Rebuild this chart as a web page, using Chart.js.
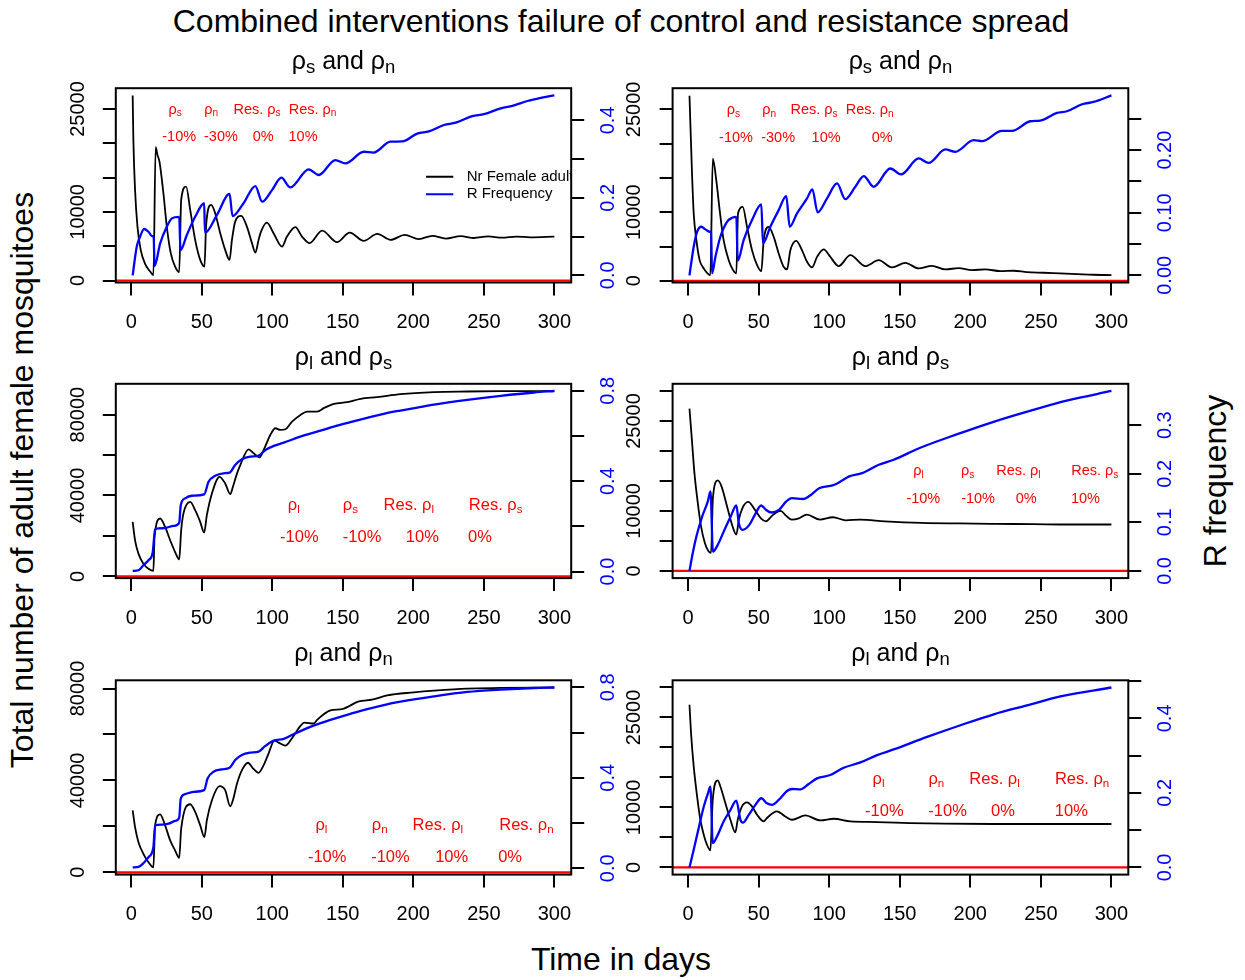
<!DOCTYPE html>
<html><head><meta charset="utf-8">
<script src="https://cdn.jsdelivr.net/npm/chart.js@4.4.1/dist/chart.umd.min.js"></script>
<style>
html,body{margin:0;padding:0;background:#fff;}
body{width:1245px;height:980px;position:relative;overflow:hidden;font-family:'Liberation Sans',Arial,Helvetica,sans-serif;}
canvas{position:absolute;}
.t{position:absolute;white-space:nowrap;line-height:1;color:#000;}
.t sub{font-size:74%;vertical-align:-0.22em;line-height:0;}
</style></head><body>
<div class="t" id="mainTitle" style="font-size:32px;left:621px;top:5px;transform:translateX(-50%);">Combined interventions failure of control and resistance spread</div>
<div class="t" style="font-size:32px;left:621px;top:943px;transform:translateX(-50%);">Time in days</div>
<div class="t" style="font-size:32px;left:22px;top:480px;transform:translate(-50%,-50%) rotate(-90deg);">Total number of adult female mosquitoes</div>
<div class="t" style="font-size:32px;left:1215px;top:481px;transform:translate(-50%,-50%) rotate(-90deg);">R frequency</div>
<script>
// ---------------- data ----------------
const xRange = [1, 300];
const xTickValues = [0,50,100,150,200,250,300];

// Panel 1: rho_s and rho_n (Res. rho_s 0%, Res. rho_n 10%)
const p1Days = [1,1.5,2.7,4.4,6.7,9.8,13.4,15.7,17.3,18.6,20,22.8,25.2,28,31.1,34,35.4,38.9,41.8,45.3,48.9,51.9,53.1,56.7,59.5,63.1,66.6,69.7,71.4,73.7,78,82,85.6,88,90.3,92,96.2,100.9,106.9,110.4,116.4,121.1,126.5,135.3,145.9,154.9,164.9,174.4,183.9,193.8,204,213.5,223,233.6,243,253,263,273,283,300];
const p1Female = [26970,20490,13200,7860,4470,2430,1310,760,19420,18300,17330,12720,7860,3990,2040,1220,11750,13690,10290,5925,3010,2040,8110,11020,9810,6900,4470,3010,5925,8590,9420,7860,5445,4080,5925,7130,8445,6900,4950,6405,7775,6405,5445,7280,5590,6990,5780,6800,5925,6650,6030,6520,6120,6460,6200,6420,6250,6400,6300,6400];
const p1FreqDays = [1,3.9,6.2,9.1,12.2,14.6,15.9,16.5,20.5,25.2,28.8,34,34.9,39.4,45.3,51.7,52.3,60.7,69.7,71.8,79.6,88,92.8,99.8,106.4,112.8,125.8,132.9,144.7,151.9,164.9,171.8,183.8,192.1,202.8,211,221.7,230,241.8,250.1,262,271.5,281,290.4,300];
const p1Freq = [0,0.074,0.0996,0.1195,0.1125,0.1014,0.0996,0.024,0.0826,0.1254,0.147,0.151,0.065,0.104,0.151,0.186,0.11,0.1556,0.21,0.153,0.186,0.2304,0.19,0.22,0.252,0.227,0.2735,0.259,0.2975,0.289,0.319,0.317,0.345,0.3456,0.366,0.3716,0.388,0.394,0.411,0.416,0.431,0.4387,0.45,0.458,0.4645];

// Panel 2: rho_s and rho_n (Res. rho_s 10%, Res. rho_n 0%)
const p2Days = [1,2.8,4,5.9,8.2,11.1,15.8,17.5,20,22.4,25.2,28.8,31.9,34.2,35.4,38.7,41.8,45.3,48.9,51.9,53.6,57.1,60.7,64.2,67.7,70.1,72.5,76.7,80.7,84.3,87.8,91.4,96.1,100.8,106.7,115,125.6,135.1,144.5,154,163.4,172.8,182.3,191.7,201.2,210.6,221.2,230.7,240.1,251.9,263.7,275.5,287.3,300];
const p2Female = [27000,15640,9810,5925,3010,1805,830,17820,14660,10290,5925,3010,1560,1077,9810,10770,7860,4470,2290,1410,5925,7860,6400,3990,2040,1660,4470,5820,4470,2770,1950,3490,4570,3490,2140,3740,2140,3010,1950,2620,1805,2180,1660,1850,1560,1660,1416,1465,1270,1174,1077,980,880,830];
const p2FreqDays = [1,4,6.4,9.4,12.3,15.3,16.3,17,19.4,22.9,27.6,31.2,34.2,35.2,39.4,45.3,51.9,53.1,58.3,64.2,69.6,72,77.2,84.3,88.1,91.8,98.5,105.6,111.4,118.5,124.5,131.5,143.3,150.9,163.4,170.5,182.3,189.4,202.4,208.3,222.4,229.5,242.5,249.6,261.4,268.5,279.2,287.4,300];
const p2Freq = [0,0.0456,0.0696,0.0776,0.0734,0.0696,0.0685,0.0032,0.0297,0.0616,0.0855,0.0919,0.0935,0.0233,0.0563,0.0882,0.1133,0.0511,0.0776,0.1042,0.1265,0.0776,0.0989,0.1229,0.1372,0.1005,0.1229,0.1468,0.1217,0.1414,0.1585,0.1414,0.1707,0.1612,0.1867,0.1797,0.2011,0.1974,0.2159,0.2143,0.2307,0.2307,0.2462,0.2473,0.2595,0.2622,0.2733,0.277,0.2875];

// Panel 3: rho_l and rho_s
const p3Days = [1,2.7,5.1,8.6,12.2,15.7,16.5,20.5,24,27.6,31.1,34,35.4,37,41.8,45.3,48.9,51.7,53.6,57.2,62.6,66.6,70.2,72.1,75,77.3,83.2,86.8,91,93.9,98.6,102.2,105.7,109.3,114,120,124.7,131.8,136.5,143.6,153.1,162.6,174.4,191,214.6,238.3,262,300];
const p3Female = [26930,17850,11260,6300,3820,2715,19490,28610,24450,17850,12050,8430,22810,31090,36850,32730,26930,21670,30250,41010,49240,45970,40660,44280,50930,55050,62830,60850,58860,62480,69920,73240,72400,72730,76520,79840,81480,81480,83160,85300,86140,87770,88620,90110,91100,91400,91560,91650];
const p3FreqDays = [1,5.1,8.6,12.2,15.2,16.9,19.3,25.2,30,34,35.1,38.2,42.9,51.7,54.8,59.5,65.4,69.7,73.7,78.5,84.4,90.3,95.1,101,108.1,119.9,131.7,143.6,155.4,167.3,179.1,190.9,202.8,214.6,238.3,262,285.6,300];
const p3Freq = [0.003,0.006,0.028,0.05,0.0843,0.186,0.1908,0.195,0.2024,0.2157,0.294,0.324,0.3355,0.3416,0.3975,0.424,0.4348,0.4378,0.4716,0.497,0.5085,0.513,0.538,0.556,0.5706,0.597,0.619,0.6415,0.661,0.68,0.698,0.7125,0.7258,0.739,0.76,0.7777,0.7924,0.799];

// Panel 4: rho_l and rho_s
const p4Days = [1,2.7,4.5,6.6,9.2,11.9,14.5,16.3,17.6,21.1,23.7,27.6,31.5,34.2,36,38.6,42.6,47.3,51.8,55.2,60,65.6,69.6,73.5,78,84.2,93.4,102.6,111.8,122,139.4,165.6,191.9,218.1,244.4,270.6,300];
const p4Female = [27050,21890,16340,11890,7435,4670,3270,3000,12170,15100,14100,10770,7435,6050,8550,10500,11500,10220,8700,8270,9300,10000,9170,8550,8700,9385,8550,8950,8435,8550,8270,8000,7910,7850,7800,7740,7740];
const p4FreqDays = [1,3.3,5.9,10,14,15.9,17.6,21,26.3,30.2,34.2,36,38.6,43.4,47.3,51.8,55.2,59.1,64.4,69.6,73.5,81.4,85.4,93.2,102.4,106.3,114.2,123.3,135.2,145.7,164.1,190.3,216.5,242.8,269,300];
const p4Freq = [0,0.0365,0.0707,0.112,0.143,0.1635,0.0398,0.0536,0.088,0.112,0.1347,0.0983,0.0845,0.0948,0.1155,0.1347,0.1258,0.1202,0.1258,0.143,0.15,0.148,0.153,0.1705,0.176,0.181,0.1945,0.2014,0.2186,0.2289,0.253,0.281,0.307,0.330,0.351,0.3704];

// Panel 5: rho_l and rho_n
const p5Days = [1,2.7,5.1,8.6,12.2,15.7,16.9,20.5,24,27.6,31.1,34,35.4,41.8,45.3,48.9,51.9,53.6,57.2,62.6,66.6,70.2,72.1,75,78.5,82.8,86.3,90.3,93.9,97.4,101.5,104.5,109.3,114,120,122.8,129.4,131.8,141.3,149.5,161.4,170.8,181.5,200.4,214.6,238.3,262,300];
const p5Female = [27000,19690,13130,8050,4380,2130,20440,25250,20440,13870,9500,6300,18990,29630,26260,20440,15320,22620,31380,37500,35750,28750,31380,38680,44500,47700,45250,43320,46690,51810,57330,56450,55140,58380,63760,65200,64770,66380,70450,71070,74390,75140,77020,78330,79080,80000,80250,80450];
const p5FreqDays = [1,5.1,8.6,12.2,15.7,16.9,21.6,26.4,31.1,34,35.1,38.2,44.1,51.7,54.1,58.3,64.2,69.7,73.7,78.4,84.4,90.3,95.1,101,108.1,114,124.7,134.2,143.6,155.4,167.3,179.1,190.9,214.6,238.3,262,285.6,300];
const p5Freq = [0.0038,0.006,0.022,0.049,0.0933,0.19,0.193,0.197,0.209,0.224,0.308,0.3275,0.338,0.3453,0.397,0.4266,0.437,0.444,0.4786,0.5008,0.511,0.516,0.5408,0.5644,0.572,0.5897,0.6195,0.6417,0.6608,0.683,0.704,0.7217,0.7364,0.76,0.7795,0.79,0.797,0.7992];

// Panel 6: rho_l and rho_n
const p6Days = [1,2.1,4,6.4,8.7,11.1,13.4,15.8,17.5,21,22.9,26.4,30,33.5,35.2,38.2,41.8,45.3,48.9,53.6,55.9,63,68.9,73.7,83.1,93.7,103.2,115,133.9,157.5,181.1,216.5,300];
const p6Female = [27120,22400,16840,11840,7950,5450,3780,2830,11290,14500,13500,10740,7950,5835,7950,10170,10840,10170,8785,7670,8235,9335,8500,7950,8670,7835,8110,7670,7560,7400,7290,7234,7234];
const p6FreqDays = [1,4,7.5,11.1,14.1,15.8,17.5,20.5,25.2,30,34.2,37.1,38.9,43,47.7,51.9,55.9,59.5,64.2,70.1,73.7,79.6,85.5,91.4,100.8,110.3,122.1,133.9,145.7,169.4,193,216.6,240.2,263.9,300];
const p6Freq = [0,0.0473,0.1053,0.163,0.199,0.2166,0.0652,0.0829,0.123,0.154,0.179,0.1275,0.12,0.141,0.1677,0.1856,0.172,0.1677,0.181,0.205,0.2104,0.2095,0.2238,0.239,0.2479,0.2674,0.2818,0.3014,0.3166,0.3503,0.3816,0.411,0.435,0.459,0.4829];

// reference (red) level
const redLevel = 0;

// axis data ranges (as R computes them, before its 4% extension)
const leftRanges  = [[760,26980],[800,27040],[2715,91656],[0,30000],[2127,80453],[0,30000]];
const rightRanges = [[0,0.4645],[0,0.2875],[0.003,0.799],[0,0.3704],[0.0038,0.7992],[0,0.4829]];
// tick positions and the tick labels that R printed
const leftTickValues  = [[0,5000,10000,15000,20000,25000],[0,5000,10000,15000,20000,25000],[0,20000,40000,60000,80000],[0,5000,10000,15000,20000,25000,30000],[0,20000,40000,60000,80000],[0,5000,10000,15000,20000,25000,30000]];
const rightTickValues = [[0,0.1,0.2,0.3,0.4],[0,0.05,0.1,0.15,0.2,0.25],[0,0.2,0.4,0.6,0.8],[0,0.1,0.2,0.3],[0,0.2,0.4,0.6,0.8],[0,0.1,0.2,0.3,0.4,0.5]];
const leftTickLabels  = [['0','10000','25000'],['0','10000','25000'],['0','40000','80000'],['0','10000','25000'],['0','40000','80000'],['0','10000','25000']];
const rightTickLabels = [['0.0','0.2','0.4'],['0.00','0.10','0.20'],['0.0','0.4','0.8'],['0.0','0.1','0.2','0.3'],['0.0','0.4','0.8'],['0.0','0.2','0.4']];

const panelTitles = ['ρ<sub>s</sub> and ρ<sub>n</sub>','ρ<sub>s</sub> and ρ<sub>n</sub>','ρ<sub>l</sub> and ρ<sub>s</sub>','ρ<sub>l</sub> and ρ<sub>s</sub>','ρ<sub>l</sub> and ρ<sub>n</sub>','ρ<sub>l</sub> and ρ<sub>n</sub>'];

// red annotation texts ('|' marks the start of a subscript)
const annotNames  = [['ρ|s','ρ|n','Res. ρ|s','Res. ρ|n'],['ρ|s','ρ|n','Res. ρ|s','Res. ρ|n'],['ρ|l','ρ|s','Res. ρ|l','Res. ρ|s'],['ρ|l','ρ|s','Res. ρ|l','Res. ρ|s'],['ρ|l','ρ|n','Res. ρ|l','Res. ρ|n'],['ρ|l','ρ|n','Res. ρ|l','Res. ρ|n']];
const annotValues = [['-10%','-30%','0%','10%'],['-10%','-30%','10%','0%'],['-10%','-10%','10%','0%'],['-10%','-10%','0%','10%'],['-10%','-10%','10%','0%'],['-10%','-10%','0%','10%']];
const legendLabels = ['Nr Female adult','R Frequency'];

// ---------------- layout / style ----------------
const FONT = "'Liberation Sans', Arial, Helvetica, sans-serif";
const COLS = [{l:115.8, r:571.2, cl:40, cw:620},{l:672.6, r:1128.3, cl:622, cw:620}];
const ROWS = [88.2, 383.8, 680.3];
const BOX_H = 194.3;
const annotLayout = [
  {size:14.5, nameX:[31.1,56.7,89.2,128.6], nameY:24850, valX:[34,63.6,93.6,121.8], valY:20880},
  {size:14.5, nameX:[32.1,57.4,89.3,128.7], nameY:24850, valX:[34,63.8,97.8,137.5], valY:20880},
  {size:16.5, nameX:[115.2,155.4,196.8,258.4], nameY:34860, valX:[119.2,163.7,206.4,247.3], valY:19190},
  {size:14.5, nameX:[163.3,198.2,234.1,288.2], nameY:16600, valX:[166.7,205.5,239.6,281.6], valY:12050},
  {size:16.5, nameX:[134.8,176.2,217.4,280.2], nameY:20440, valX:[138.9,183.8,227.2,268.6], valY:6560},
  {size:16.5, nameX:[135,175.9,217.2,279.2], nameY:14620, valX:[139.1,183.9,223.2,271.6], valY:9335}
];

const series = [
  [p1Days,p1Female,p1FreqDays,p1Freq],[p2Days,p2Female,p2FreqDays,p2Freq],
  [p3Days,p3Female,p3FreqDays,p3Freq],[p4Days,p4Female,p4FreqDays,p4Freq],
  [p5Days,p5Female,p5FreqDays,p5Freq],[p6Days,p6Female,p6FreqDays,p6Freq]
];

function ext(r){ const d=(r[1]-r[0])*0.04; return [r[0]-d, r[1]+d]; }
function xy(xs, ys){ const n=Math.min(xs.length, ys.length); const o=[]; for(let i=0;i<n;i++) o.push({x:xs[i], y:ys[i]}); return o; }

function drawSubText(ctx, str, cx, cy, size, color){
  const parts = str.split('|');
  const main = parts[0], sub = parts[1]||'';
  const sSize = size*0.7;
  ctx.font = size+'px '+FONT; const w1 = ctx.measureText(main).width;
  ctx.font = sSize+'px '+FONT; const w2 = sub ? ctx.measureText(sub).width : 0;
  const x0 = cx-(w1+w2)/2;
  ctx.fillStyle = color; ctx.textAlign='left'; ctx.textBaseline='middle';
  ctx.font = size+'px '+FONT; ctx.fillText(main, x0, cy);
  if(sub){ ctx.font = sSize+'px '+FONT; ctx.fillText(sub, x0+w1, cy+size*0.25); }
}

// vertical (R style, las=0) tick labels, positioned by the scale
function drawYLabels(ctx, scale, labels, cx, color){
  ctx.save();
  ctx.fillStyle=color; ctx.font='20px '+FONT; ctx.textAlign='center'; ctx.textBaseline='middle';
  labels.forEach(lab=>{
    const py = scale.getPixelForValue(parseFloat(lab));
    ctx.save(); ctx.translate(cx, py); ctx.rotate(-Math.PI/2); ctx.fillText(lab, 0, 0); ctx.restore();
  });
  ctx.restore();
}
function fixedTicks(values){ return (sc)=>{ sc.ticks = values.map(v=>({value:v})); }; }

const xr = ext(xRange);

series.forEach((s, idx)=>{
  const col = COLS[idx%2], top = ROWS[Math.floor(idx/2)];
  const box = {l:col.l, r:col.r, t:top, b:top+BOX_H};
  const cTop = Math.round(top)-22, cH = 282;
  const cv = document.createElement('canvas');
  cv.width = col.cw; cv.height = cH;
  cv.style.left = col.cl+'px'; cv.style.top = cTop+'px';
  document.body.appendChild(cv);

  const tdiv = document.createElement('div');
  tdiv.className='t'; tdiv.style.fontSize='25px';
  tdiv.style.left = ((box.l+box.r)/2)+'px'; tdiv.style.top = (box.t-40.2)+'px';
  tdiv.style.transform='translateX(-50%)';
  tdiv.innerHTML = panelTitles[idx];
  document.body.appendChild(tdiv);

  const lr = ext(leftRanges[idx]), rr = ext(rightRanges[idx]);
  const an = annotLayout[idx];
  const gridOpt = {display:true, drawOnChartArea:false, drawTicks:true, tickLength:13, color:'#000', lineWidth:2};

  const plugin = {
    id:'panelDeco'+idx,
    afterDatasetsDraw(chart){
      const ctx = chart.ctx, ca = chart.chartArea;
      const X = chart.scales.x, Y = chart.scales.yL;
      ctx.save();
      annotNames[idx].forEach((t,i)=>drawSubText(ctx, t, X.getPixelForValue(an.nameX[i]), Y.getPixelForValue(an.nameY), an.size, '#FF0000'));
      annotValues[idx].forEach((t,i)=>drawSubText(ctx, t, X.getPixelForValue(an.valX[i]), Y.getPixelForValue(an.valY), an.size, '#FF0000'));
      if(idx===0){
        ctx.save();
        ctx.beginPath(); ctx.rect(ca.left, ca.top, ca.right-ca.left, ca.bottom-ca.top); ctx.clip();
        const cols = ['#000000','#0000FF'];
        legendLabels.forEach((lab,i)=>{
          const y = ca.top+88.5+i*17.6;
          ctx.strokeStyle = cols[i]; ctx.lineWidth = 2;
          ctx.beginPath(); ctx.moveTo(ca.left+310.2, y); ctx.lineTo(ca.left+337.5, y); ctx.stroke();
          ctx.fillStyle='#000'; ctx.font='15px '+FONT; ctx.textAlign='left'; ctx.textBaseline='middle';
          ctx.fillText(lab, ca.left+350.9, y);
        });
        ctx.restore();
      }
      ctx.restore();
    },
    afterDraw(chart){
      const ctx = chart.ctx, ca = chart.chartArea;
      ctx.save();
      ctx.strokeStyle='#000'; ctx.lineWidth=2;
      ctx.strokeRect(ca.left, ca.top, ca.right-ca.left, ca.bottom-ca.top);
      ctx.restore();
      drawYLabels(ctx, chart.scales.yL, leftTickLabels[idx], ca.left-37.7, '#000000');
      drawYLabels(ctx, chart.scales.yR, rightTickLabels[idx], ca.right+37.4, '#0000FF');
    }
  };

  new Chart(cv, {
    type:'line',
    data:{ datasets:[
      {label:'R Frequency', data:xy(s[2], s[3]), borderColor:'#0000FF', borderWidth:2.3, pointRadius:0, cubicInterpolationMode:'monotone', yAxisID:'yR', xAxisID:'x'},
      {label:'reference', data:xy([xr[0], xr[1]], [redLevel, redLevel]), borderColor:'#FF0000', borderWidth:2.2, pointRadius:0, yAxisID:'yL', xAxisID:'x'},
      {label:'Nr Female adult', data:xy(s[0], s[1]), borderColor:'#000000', borderWidth:1.8, pointRadius:0, cubicInterpolationMode:'monotone', yAxisID:'yL', xAxisID:'x'}
    ]},
    options:{
      responsive:false, animation:false, devicePixelRatio:1, events:[],
      layout:{ autoPadding:false, padding:{top: box.t-cTop, left:0, right:0, bottom:0} },
      plugins:{ legend:{display:false}, tooltip:{enabled:false}, title:{display:false} },
      scales:{
        x:{ type:'linear', position:'bottom', min:xr[0], max:xr[1],
            border:{display:false}, grid:gridOpt,
            afterBuildTicks:fixedTicks(xTickValues),
            ticks:{ autoSkip:false, maxRotation:0, minRotation:0,
                    color:'#000', font:{family:FONT, size:20}, padding:15,
                    callback:(v)=>String(v) },
            afterFit:(sc)=>{ sc.height = cTop+cH-box.b; } },
        yL:{ type:'linear', position:'left', min:lr[0], max:lr[1],
            border:{display:false}, grid:gridOpt,
            afterBuildTicks:fixedTicks(leftTickValues[idx]),
            ticks:{ autoSkip:false, display:false },
            afterFit:(sc)=>{ sc.width = box.l-col.cl; } },
        yR:{ type:'linear', position:'right', min:rr[0], max:rr[1],
            border:{display:false}, grid:gridOpt,
            afterBuildTicks:fixedTicks(rightTickValues[idx]),
            ticks:{ autoSkip:false, display:false },
            afterFit:(sc)=>{ sc.width = col.cl+col.cw-box.r; } }
      }
    },
    plugins:[plugin]
  });
});
</script>
</body></html>
